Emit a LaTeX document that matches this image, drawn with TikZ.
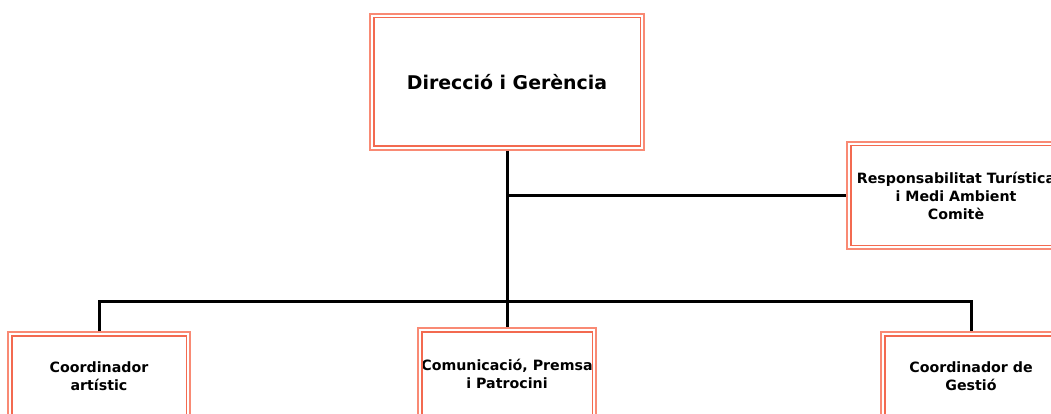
\documentclass[tikz,border=0pt]{standalone}
\usepackage{fontspec}
\setmainfont{DejaVu Sans}
\definecolor{outerc}{HTML}{F98A74}
\definecolor{innerc}{HTML}{F36A50}
\tikzset{
  orgbox/.style={draw=outerc, line width=1.2pt, fill=white, rectangle, align=center,
    font=\bfseries\fontsize{14.2}{18}\selectfont, inner sep=0pt},
  link/.style={line width=3pt, black},
}
\newcommand{\innerframe}[1]{\draw[innerc, line width=1.2pt]
  ([shift={(4.5pt,-4.5pt)}]#1.north west) rectangle ([shift={(-4.5pt,4.5pt)}]#1.south east);}
\begin{document}
\begin{tikzpicture}[x=1pt,y=-1pt]
\useasboundingbox (0,0) rectangle (1051,414);
\clip (0,0) rectangle (1051,414);
\node[orgbox, minimum width=274pt, minimum height=136pt, font=\bfseries\fontsize{18.9}{22}\selectfont] (top) at (507,82) {Direcció i Gerència};
\node[orgbox, minimum width=218pt, minimum height=107pt] (resp) at (956,195.5) {Responsabilitat Turística\\i Medi Ambient\\Comitè};
\node[orgbox, minimum width=182pt, minimum height=88pt] (left) at (99,376) {Coordinador\\artístic};
\node[orgbox, minimum width=178pt, minimum height=92pt] (mid) at (507,374) {Comunicació, Premsa\\i Patrocini};
\node[orgbox, minimum width=180pt, minimum height=88pt] (rb) at (971,376) {Coordinador de\\Gestió};
\innerframe{top}
\innerframe{resp}
\innerframe{left}
\innerframe{mid}
\innerframe{rb}
\coordinate (bar) at (top.south |- 0,302);
\draw[link] (top.south) -- (bar);
\draw[link] (top.south |- resp.west) -- (resp.west);
\draw[link] (left.north) -- ++(0,-30) -| (rb.north);
\draw[link] (bar) -- (mid.north);
\end{tikzpicture}
\end{document}
